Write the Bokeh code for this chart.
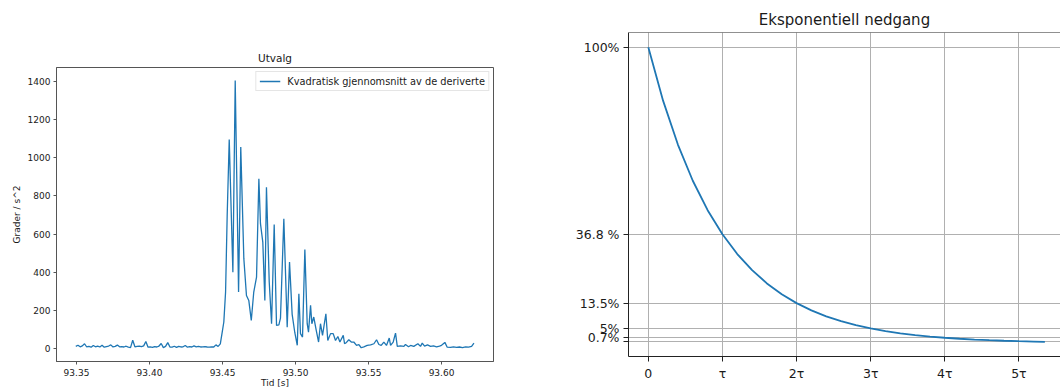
from bokeh.plotting import figure
from bokeh.layouts import row
from bokeh.models import (FixedTicker, PrintfTickFormatter, CustomJSTickFormatter,
                          Span, Range1d, Legend, LegendItem)
from bokeh.embed import file_html
from bokeh.resources import INLINE

FONT = "DejaVu Sans"
TXT = "#1a1a1a"
BLUE = "#1f77b4"

# ---------------- left panel data: "Utvalg" ----------------
tid = [
    93.3495, 93.3510, 93.3525, 93.3540, 93.3555, 93.3570, 93.3585, 93.3600, 93.3615, 93.3630,
    93.3645, 93.3660, 93.3675, 93.3690, 93.3705, 93.3720, 93.3735, 93.3750, 93.3765, 93.3780,
    93.3795, 93.3810, 93.3825, 93.3840, 93.3855, 93.3870, 93.3885, 93.3900, 93.3915, 93.3930,
    93.3945, 93.3960, 93.3975, 93.3990, 93.4005, 93.4020, 93.4035, 93.4050, 93.4065, 93.4080,
    93.4095, 93.4110, 93.4125, 93.4140, 93.4155, 93.4170, 93.4185, 93.4200, 93.4215, 93.4230,
    93.4245, 93.4260, 93.4275, 93.4290, 93.4305, 93.4320, 93.4335, 93.4350, 93.4365, 93.4380,
    93.4395, 93.4410, 93.4425, 93.4440, 93.4455, 93.4470, 93.4485,
    93.4498, 93.4509, 93.4521, 93.4532, 93.4546, 93.4571, 93.4587, 93.4610, 93.4625, 93.4646,
    93.4664, 93.4680, 93.4697, 93.4714, 93.4733, 93.4749, 93.4760, 93.4776, 93.4790, 93.4801,
    93.4820, 93.4836, 93.4854, 93.4870, 93.4886, 93.4897, 93.4920, 93.4943, 93.4959, 93.4977,
    93.4995, 93.5012, 93.5023, 93.5034, 93.5048, 93.5064, 93.5080, 93.5089, 93.5103, 93.5112,
    93.5125, 93.5142, 93.5158, 93.5171, 93.5185, 93.5208, 93.5221, 93.5240, 93.5258, 93.5274,
    93.5290, 93.5304, 93.5327, 93.5336, 93.5349, 93.5365, 93.5382, 93.5399, 93.5418, 93.5434,
    93.5450, 93.5468, 93.5491, 93.5514, 93.5537, 93.5555, 93.5571, 93.5587, 93.5605, 93.5623,
    93.5642, 93.5651, 93.5669, 93.5685, 93.5697, 93.5719, 93.5742, 93.5753, 93.5774, 93.5788,
    93.5810, 93.5838, 93.5856, 93.5868, 93.5884, 93.5904, 93.5925, 93.5945, 93.5966, 93.5986,
    93.6000, 93.6023, 93.6039, 93.6062, 93.6082, 93.6103, 93.6123, 93.6144, 93.6165, 93.6185,
    93.6206, 93.6222,
]
kvadratisk = [
    12, 18, 10, 15, 26, 9, 12, 8, 17, 10,
    14, 9, 18, 8, 11, 14, 20, 9, 12, 19,
    10, 11, 9, 13, 8, 6, 44, 10, 12, 14,
    11, 15, 38, 8, 10, 7, 11, 9, 14, 27,
    6, 12, 32, 9, 8, 13, 7, 12, 9, 10,
    17, 8, 11, 9, 15, 10, 12, 9, 10, 11,
    9, 8, 10, 9, 20, 12, 25,
    87, 140, 297, 698, 1096, 401, 1405, 297, 1056, 473,
    279, 253, 148, 297, 375, 890, 655, 558, 253, 846,
    349, 131, 651, 122, 125, 160, 681, 113, 454, 180,
    85, 18, 288, 79, 61, 520, 131, 87, 227, 131,
    166, 96, 35, 131, 70, 183, 43, 79, 79, 43,
    64, 35, 70, 26, 33, 47, 35, 35, 17, 22,
    5, 10, 17, 20, 26, 47, 22, 17, 35, 17,
    56, 17, 35, 82, 12, 15, 12, 22, 10, 17,
    12, 26, 12, 29, 14, 20, 12, 15, 10, 14,
    18, 33, 8, 7, 10, 7, 9, 6, 10, 8,
    12, 29,
]
venstre_xticks = [93.35, 93.40, 93.45, 93.50, 93.55, 93.60]
venstre_yticks = [0, 200, 400, 600, 800, 1000, 1200, 1400]

# ---------------- right panel data: "Eksponentiell nedgang" ----------------
tau_akse = [0.0, 0.2, 0.4, 0.6, 0.8, 1.0, 1.2, 1.4, 1.6, 1.8, 2.0, 2.2, 2.4, 2.6, 2.8,
            3.0, 3.2, 3.4, 3.6, 3.8, 4.0, 4.2, 4.4, 4.6, 4.8, 5.0, 5.2, 5.35]
prosent = [100.0, 81.87, 67.03, 54.88, 44.93, 36.79, 30.12, 24.66, 20.19, 16.53, 13.53,
           11.08, 9.07, 7.43, 6.08, 4.98, 4.08, 3.34, 2.73, 2.24, 1.83, 1.50, 1.23, 1.01,
           0.82, 0.67, 0.55, 0.47]
hoyre_xticks = [0, 1, 2, 3, 4, 5]
hoyre_xlabels = ["0", "τ", "2τ", "3τ", "4τ", "5τ"]
hoyre_yticks = [100, 36.8, 13.5, 5, 1.8, 0.7]
hoyre_ylabels = ["100%", "36.8 %", "13.5%", "5%", "0.7%", ""]

# ---------------- left figure ----------------
p1 = figure(width=530, height=390, output_backend="svg", toolbar_location=None,
            x_range=Range1d(93.3363, 93.6356), y_range=Range1d(-67, 1473),
            min_border_left=56, min_border_right=37, min_border_top=67, min_border_bottom=29)
p1.frame_align = False
r1 = p1.line(tid, kvadratisk, line_color=BLUE, line_width=1.3)
p1.xgrid.visible = False
p1.ygrid.visible = False
p1.outline_line_color = "#555555"
p1.outline_line_width = 1
p1.background_fill_color = "white"
p1.border_fill_color = "white"

p1.title.text = "Utvalg"
p1.title.align = "center"
p1.title.text_font = FONT
p1.title.text_font_size = "10.5px"
p1.title.text_font_style = "normal"
p1.title.text_color = TXT
p1.title.standoff = 7

p1.xaxis.ticker = FixedTicker(ticks=venstre_xticks)
p1.xaxis.formatter = PrintfTickFormatter(format="%.2f")
p1.yaxis.ticker = FixedTicker(ticks=venstre_yticks)
p1.xaxis.axis_label = "Tid [s]"
p1.yaxis.axis_label = "Grader / s^2"
for ax in (p1.xaxis[0], p1.yaxis[0]):
    ax.major_label_text_font = FONT
    ax.major_label_text_font_size = "9px"
    ax.major_label_text_color = TXT
    ax.axis_label_text_font = FONT
    ax.axis_label_text_font_size = "9px"
    ax.axis_label_text_font_style = "normal"
    ax.axis_label_text_color = TXT
    ax.axis_line_color = "#555555"
    ax.major_tick_line_color = "#555555"
    ax.major_tick_out = 3
    ax.major_tick_in = 0
    ax.minor_tick_out = 0
    ax.minor_tick_in = 0
    ax.major_label_standoff = 3
    ax.axis_label_standoff = 3
p1.xaxis[0].major_label_standoff = 4
p1.xaxis[0].axis_label_standoff = -1

legend = Legend(items=[LegendItem(label="Kvadratisk gjennomsnitt av de deriverte", renderers=[r1])],
                location="top_right", margin=4, padding=3, spacing=0,
                label_height=12, glyph_height=12, glyph_width=21, label_standoff=7,
                label_text_font=FONT, label_text_font_size="9.8px", label_text_color=TXT,
                border_line_color="#cccccc", border_line_width=1,
                background_fill_color="white", background_fill_alpha=0.8)
p1.add_layout(legend)

# ---------------- right figure ----------------
p2 = figure(width=530, height=390, output_backend="svg", toolbar_location=None,
            x_range=Range1d(-0.2675, 5.561), y_range=Range1d(-4.5, 104.98),
            min_border_left=98, min_border_right=0, min_border_top=32, min_border_bottom=34)
p2.frame_align = False
p2.line(tau_akse, prosent, line_color=BLUE, line_width=1.8)
p2.outline_line_color = None
p2.background_fill_color = "white"
p2.border_fill_color = "white"

p2.title.text = "Eksponentiell nedgang"
p2.title.align = "center"
p2.title.text_font = FONT
p2.title.text_font_size = "15px"
p2.title.text_font_style = "normal"
p2.title.text_color = TXT
p2.title.standoff = 7

p2.xaxis.ticker = FixedTicker(ticks=hoyre_xticks)
p2.xaxis.formatter = CustomJSTickFormatter(args=dict(v=hoyre_xticks, l=hoyre_xlabels), code="""
    for (let i = 0; i < v.length; i++) { if (Math.abs(tick - v[i]) < 1e-6) return l[i]; }
    return "";
""")
p2.yaxis.ticker = FixedTicker(ticks=hoyre_yticks)
p2.yaxis.formatter = CustomJSTickFormatter(args=dict(v=hoyre_yticks, l=hoyre_ylabels), code="""
    for (let i = 0; i < v.length; i++) { if (Math.abs(tick - v[i]) < 1e-6) return l[i]; }
    return "";
""")
for ax in (p2.xaxis[0], p2.yaxis[0]):
    ax.major_label_text_font = FONT
    ax.major_label_text_font_size = "12.5px"
    ax.major_label_text_color = TXT
    ax.axis_line_color = "#222222"
    ax.major_tick_line_color = "#222222"
    ax.major_tick_out = 5
    ax.major_tick_in = 0
    ax.minor_tick_out = 0
    ax.minor_tick_in = 0
    ax.major_label_standoff = 4

for g in (p2.xgrid[0], p2.ygrid[0]):
    g.grid_line_color = "#b0b0b0"
    g.grid_line_width = 1
    g.grid_line_alpha = 1.0

# top spine (the right spine is cut off by the window in the reference)
p2.add_layout(Span(location=104.98, dimension="width", line_color="#222222", line_width=1))

layout = row(p1, p2, spacing=0)
open("out.html", "w").write(file_html(layout, INLINE))
